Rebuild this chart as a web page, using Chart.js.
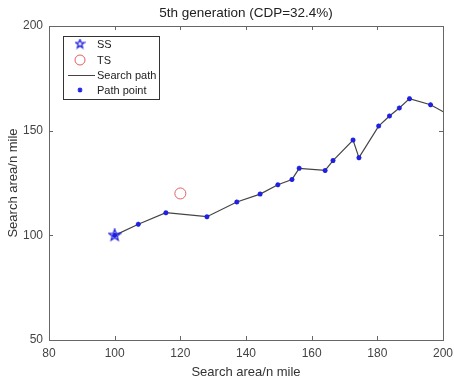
<!DOCTYPE html>
<html>
<head>
<meta charset="utf-8">
<script src="https://cdn.jsdelivr.net/npm/chart.js@4.4.1/dist/chart.umd.min.js"></script>
<style>
  html, body { margin: 0; padding: 0; background: #fff; }
  #wrap { width: 454px; height: 381px; position: relative; }
</style>
</head>
<body>
<div id="wrap"><canvas id="c" width="454" height="381"></canvas></div>
<script>
// values
var pathX = [100, 107.2, 115.6, 128.1, 137.2, 144.3, 149.7, 154.0, 156.2, 164.1, 166.5, 172.6, 174.4, 180.4, 183.7, 186.7, 189.8, 196.2, 203.0];
var pathY = [100, 105.3, 110.8, 108.9, 115.9, 119.7, 124.2, 126.7, 132.0, 131.0, 135.7, 145.5, 137.1, 152.2, 157.0, 160.8, 165.3, 162.4, 156.5];
var ssPoint = [100, 100];
var tsPoint = [120, 120];
var xTicks = [80, 100, 120, 140, 160, 180, 200];
var yTicks = [50, 100, 150, 200];
var legendLabels = ['SS', 'TS', 'Search path', 'Path point'];
var chartTitle = '5th generation (CDP=32.4%)';

var FONT = '"Liberation Sans", Arial, sans-serif';
var BLUE = '#2020e0';
var RED = '#e06060';
var LINE = '#444444';
var AXIS = '#666666';
var TEXT = '#444444';

// pentagram marker (outline), like matlab 'p'
function pentagram(size, color) {
  var cv = document.createElement('canvas');
  cv.width = size; cv.height = size;
  var g = cv.getContext('2d');
  var cx = size / 2, cy = size / 2, ro = size / 2 - 1, ri = ro * 0.42;
  g.beginPath();
  for (var i = 0; i < 10; i++) {
    var r = i % 2 ? ri : ro;
    var a = -Math.PI / 2 + i * Math.PI / 5;
    var px = cx + r * Math.cos(a), py = cy + r * Math.sin(a);
    if (i == 0) g.moveTo(px, py); else g.lineTo(px, py);
  }
  g.closePath();
  g.strokeStyle = color;
  g.lineWidth = 1.3;
  g.stroke();
  return cv;
}
var starImg = pentagram(14, BLUE);
var starSmall = pentagram(11, BLUE);

function toPts(xs, ys) {
  var out = [];
  for (var i = 0; i < xs.length; i++) out.push({x: xs[i], y: ys[i]});
  return out;
}

// axes box + inward ticks + title centred over the plot (matlab style)
var boxPlugin = {
  id: 'box',
  afterDatasetsDraw: function(chart) {
    var ctx = chart.ctx, a = chart.chartArea;
    var xs = chart.scales.x, ys = chart.scales.y;
    ctx.save();
    ctx.strokeStyle = AXIS;
    ctx.lineWidth = 1;
    ctx.strokeRect(Math.round(a.left) + 0.5, Math.round(a.top) + 0.5, Math.round(a.right - a.left), Math.round(a.bottom - a.top));
    ctx.beginPath();
    xTicks.forEach(function(v) {
      var px = Math.round(xs.getPixelForValue(v)) + 0.5;
      ctx.moveTo(px, a.bottom); ctx.lineTo(px, a.bottom - 4);
      ctx.moveTo(px, a.top); ctx.lineTo(px, a.top + 4);
    });
    yTicks.forEach(function(v) {
      var py = Math.round(ys.getPixelForValue(v)) + 0.5;
      ctx.moveTo(a.left, py); ctx.lineTo(a.left + 4, py);
      ctx.moveTo(a.right, py); ctx.lineTo(a.right - 4, py);
    });
    ctx.stroke();
    ctx.fillStyle = '#222';
    ctx.font = '13.5px ' + FONT;
    ctx.textAlign = 'center';
    ctx.textBaseline = 'middle';
    ctx.fillText(chartTitle, (a.left + a.right) / 2, a.top - 13);
    ctx.restore();
  }
};

// legend box in the top left corner
var legendPlugin = {
  id: 'boxLegend',
  afterDraw: function(chart) {
    var ctx = chart.ctx, a = chart.chartArea;
    var lx = a.left + 14, ly = a.top + 10, lw = 96, lh = 63;
    ctx.save();
    ctx.fillStyle = '#fff';
    ctx.fillRect(lx, ly, lw, lh);
    ctx.strokeStyle = '#333';
    ctx.lineWidth = 1;
    ctx.strokeRect(Math.round(lx) + 0.5, Math.round(ly) + 0.5, lw, lh);
    var mx = lx + 17, tx = lx + 34;
    var rows = [ly + 8, ly + 24, ly + 39, ly + 54];
    ctx.drawImage(starSmall, mx - 5.5, rows[0] - 5.5);
    ctx.beginPath();
    ctx.arc(mx, rows[1], 5, 0, Math.PI * 2);
    ctx.strokeStyle = RED;
    ctx.stroke();
    ctx.beginPath();
    ctx.moveTo(lx + 5, rows[2] + 0.5); ctx.lineTo(lx + 32, rows[2] + 0.5);
    ctx.strokeStyle = LINE;
    ctx.stroke();
    ctx.beginPath();
    ctx.strokeStyle = BLUE;
    ctx.lineWidth = 1.2;
    for (var k = 0; k < 4; k++) {
      var an = k * Math.PI / 4;
      ctx.moveTo(mx - 2.5 * Math.cos(an), rows[3] - 2.5 * Math.sin(an));
      ctx.lineTo(mx + 2.5 * Math.cos(an), rows[3] + 2.5 * Math.sin(an));
    }
    ctx.stroke();
    ctx.fillStyle = '#222';
    ctx.font = '11px ' + FONT;
    ctx.textBaseline = 'middle';
    legendLabels.forEach(function(t, i) { ctx.fillText(t, tx, rows[i] + 0.5); });
    ctx.restore();
  }
};

new Chart(document.getElementById('c'), {
  type: 'scatter',
  data: {
    datasets: [
      {
        label: legendLabels[0],
        data: [{x: ssPoint[0], y: ssPoint[1]}],
        pointStyle: starImg,
        pointRadius: 7,
        order: 0
      },
      {
        label: legendLabels[1],
        data: [{x: tsPoint[0], y: tsPoint[1]}],
        pointStyle: 'circle',
        pointRadius: 5.5,
        pointBorderColor: RED,
        pointBackgroundColor: 'rgba(0,0,0,0)',
        pointBorderWidth: 1,
        order: 1
      },
      {
        label: legendLabels[2],
        data: toPts(pathX, pathY),
        showLine: true,
        borderColor: LINE,
        borderWidth: 1.2,
        pointStyle: 'star',
        pointRadius: 2.5,
        pointBorderColor: BLUE,
        pointBackgroundColor: BLUE,
        pointBorderWidth: 1.5,
        clip: 0,
        order: 2
      }
    ]
  },
  options: {
    responsive: false,
    animation: false,
    events: [],
    layout: { padding: { left: 0, right: 11, top: 26, bottom: 0 } },
    plugins: {
      legend: { display: false },
      tooltip: { enabled: false },
      title: { display: false }
    },
    scales: {
      x: {
        type: 'linear',
        min: 80, max: 200,
        afterBuildTicks: function(s) { s.ticks = xTicks.map(function(v) { return {value: v}; }); },
        afterFit: function(s) { s.height = 41; s.paddingLeft = 0; s.paddingRight = 0; },
        grid: { display: false, drawTicks: false },
        border: { display: false },
        ticks: { color: TEXT, padding: 6, font: { family: FONT, size: 12 } },
        title: {
          display: true,
          text: 'Search area/n mile',
          color: '#333',
          font: { family: FONT, size: 13 },
          padding: { top: 2, bottom: 1 }
        }
      },
      y: {
        type: 'linear',
        min: 50, max: 200,
        afterBuildTicks: function(s) { s.ticks = yTicks.map(function(v) { return {value: v}; }); },
        afterFit: function(s) { s.width = 49; s.paddingTop = 0; s.paddingBottom = 0; },
        grid: { display: false, drawTicks: false },
        border: { display: false },
        ticks: { color: TEXT, padding: 6, font: { family: FONT, size: 12 } },
        title: {
          display: true,
          text: 'Search area/n mile',
          color: '#333',
          font: { family: FONT, size: 13 },
          padding: { top: 6, bottom: 0 }
        }
      }
    }
  },
  plugins: [boxPlugin, legendPlugin]
});
</script>
</body>
</html>
